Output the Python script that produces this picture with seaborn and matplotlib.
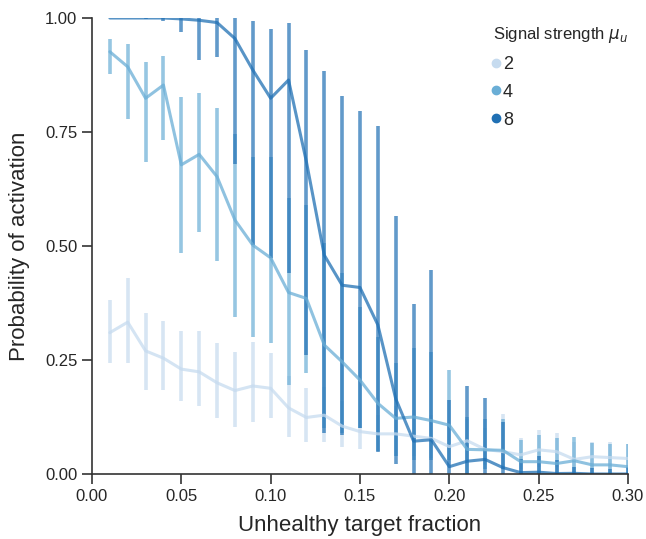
import numpy as np
import pandas as pd
import matplotlib
matplotlib.use("Agg")
import matplotlib.pyplot as plt
from matplotlib.lines import Line2D
import seaborn as sns

# ---------------- data ----------------
fractions = [0.01, 0.02, 0.03, 0.04, 0.05, 0.06, 0.07, 0.08, 0.09, 0.10,
             0.11, 0.12, 0.13, 0.14, 0.15, 0.16, 0.17, 0.18, 0.19, 0.20,
             0.21, 0.22, 0.23, 0.24, 0.25, 0.26, 0.27, 0.28, 0.29, 0.30]
strengths = [2, 4, 8]

mean_2 = [0.310, 0.333, 0.270, 0.254, 0.230, 0.224, 0.200, 0.183, 0.193, 0.188,
          0.145, 0.124, 0.129, 0.105, 0.093, 0.088, 0.088, 0.083, 0.078, 0.060,
          0.073, 0.054, 0.049, 0.042, 0.053, 0.049, 0.032, 0.038, 0.036, 0.034]
low_2 = [0.244, 0.244, 0.184, 0.184, 0.159, 0.150, 0.122, 0.104, 0.115, 0.122,
         0.082, 0.071, 0.070, 0.059, 0.055, 0.050, 0.040, 0.040, 0.035, 0.020,
         0.030, 0.020, 0.010, 0.010, 0.015, 0.015, 0.005, 0.010, 0.010, 0.010]
high_2 = [0.382, 0.430, 0.352, 0.335, 0.314, 0.314, 0.287, 0.267, 0.290, 0.265,
          0.215, 0.188, 0.190, 0.160, 0.140, 0.130, 0.150, 0.140, 0.130, 0.110,
          0.120, 0.100, 0.131, 0.080, 0.096, 0.090, 0.070, 0.070, 0.070, 0.065]

mean_4 = [0.926, 0.893, 0.824, 0.853, 0.678, 0.701, 0.652, 0.557, 0.502, 0.474,
          0.398, 0.385, 0.283, 0.246, 0.206, 0.155, 0.122, 0.125, 0.117, 0.107,
          0.054, 0.053, 0.052, 0.027, 0.027, 0.023, 0.029, 0.020, 0.020, 0.016]
low_4 = [0.877, 0.778, 0.684, 0.732, 0.484, 0.531, 0.468, 0.344, 0.300, 0.288,
         0.195, 0.221, 0.100, 0.090, 0.100, 0.050, 0.040, 0.030, 0.030, 0.030,
         0.000, 0.010, 0.010, 0.000, 0.000, 0.000, 0.000, 0.000, 0.000, 0.000]
high_4 = [0.953, 0.942, 0.904, 0.917, 0.826, 0.836, 0.803, 0.746, 0.696, 0.696,
          0.605, 0.590, 0.506, 0.440, 0.367, 0.300, 0.243, 0.276, 0.268, 0.228,
          0.124, 0.120, 0.120, 0.075, 0.085, 0.078, 0.082, 0.067, 0.065, 0.066]

mean_8 = [1.000, 1.000, 1.000, 1.000, 0.998, 0.995, 0.990, 0.955, 0.886, 0.824,
          0.864, 0.685, 0.480, 0.414, 0.409, 0.327, 0.165, 0.072, 0.075, 0.016,
          0.028, 0.032, 0.014, 0.003, 0.004, 0.001, 0.0015, 0.000, 0.000, 0.000]
low_8 = [1.000, 1.000, 0.997, 0.993, 0.969, 0.908, 0.914, 0.679, 0.502, 0.474,
         0.440, 0.261, 0.090, 0.085, 0.100, 0.049, 0.023, 0.000, 0.000, 0.000,
         0.000, 0.000, 0.000, 0.000, 0.000, 0.000, 0.000, 0.000, 0.000, 0.000]
high_8 = [1.000, 1.000, 1.000, 1.000, 1.000, 1.000, 1.000, 1.000, 0.993, 0.976,
          0.988, 0.930, 0.884, 0.830, 0.796, 0.763, 0.566, 0.373, 0.447, 0.162,
          0.193, 0.166, 0.113, 0.032, 0.040, 0.030, 0.016, 0.013, 0.010, 0.016]

means = {2: mean_2, 4: mean_4, 8: mean_8}
lows = {2: low_2, 4: low_4, 8: low_8}
highs = {2: high_2, 4: high_4, 8: high_8}

# ---------------- style ----------------
sns.set_style("ticks")
plt.rcParams["font.family"] = ["Liberation Sans", "DejaVu Sans"]
plt.rcParams["mathtext.fontset"] = "dejavusans"

palette = sns.color_palette("Blues", 3)
colors = dict(zip(strengths, palette))

fig = plt.figure(figsize=(6.46, 5.39), dpi=100)
ax = fig.add_axes([0.1424, 0.1206, 0.8297, 0.846])

rows = []
for s in strengths:
    for f, m in zip(fractions, means[s]):
        rows.append({"fraction": f, "prob": m, "strength": s})
df = pd.DataFrame(rows)

for s in strengths:
    ax.vlines(fractions, lows[s], highs[s], colors=[colors[s]], linewidth=2.6,
              alpha=0.7, zorder=1)

sns.lineplot(data=df, x="fraction", y="prob", hue="strength", palette=colors,
             linewidth=2.2, alpha=0.75, legend=False, ax=ax, zorder=2)

ax.set_xlim(0, 0.30)
ax.set_ylim(0, 1.0)
ax.set_xticks(np.arange(0, 0.301, 0.05))
ax.set_yticks([0, 0.25, 0.5, 0.75, 1.0])
ax.xaxis.set_major_formatter(matplotlib.ticker.FormatStrFormatter("%.2f"))
ax.yaxis.set_major_formatter(matplotlib.ticker.FormatStrFormatter("%.2f"))
ax.tick_params(labelsize=12, length=7, width=1.2, color="#333333")
ax.set_xlabel("Unhealthy target fraction", fontsize=16, labelpad=8)
ax.set_ylabel("Probability of activation", fontsize=16, labelpad=11)
for side in ["left", "bottom"]:
    ax.spines[side].set_linewidth(1.2)
    ax.spines[side].set_color("#333333")
sns.despine(ax=ax)

handles = [Line2D([0], [0], marker="o", linestyle="", color=colors[s],
                  markersize=6) for s in strengths]
leg = ax.legend(handles, [str(s) for s in strengths],
                title=r"Signal strength $\mu_u$", frameon=False,
                loc="upper right", bbox_to_anchor=(1.03, 1.02),
                fontsize=13, title_fontsize=12, labelspacing=0.6,
                handletextpad=0.25, handlelength=0.3, alignment="left")

fig.savefig("out.png", dpi=100)
